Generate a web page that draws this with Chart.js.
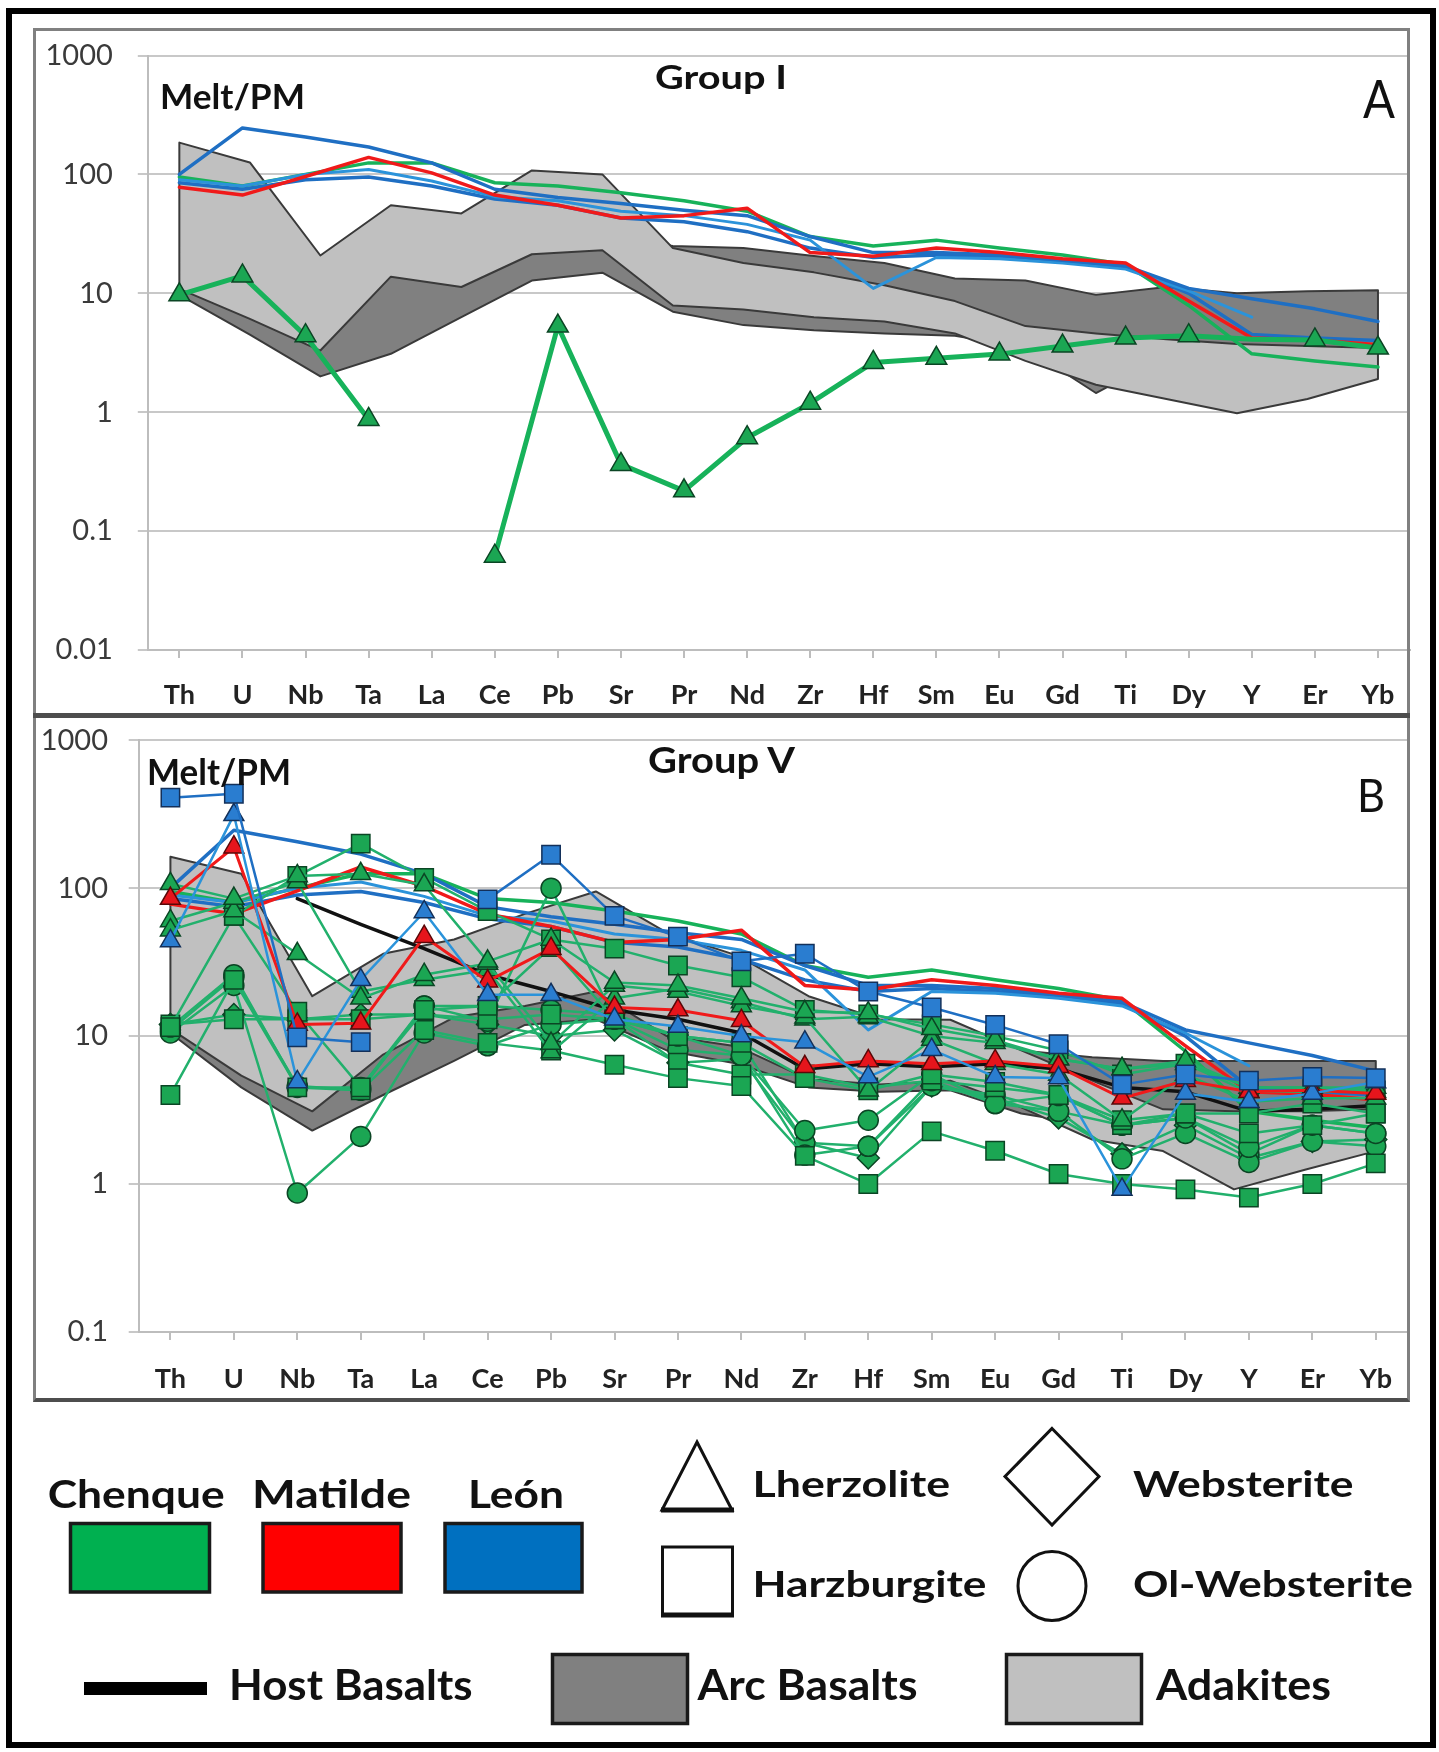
<!DOCTYPE html>
<html lang="en">
<head>
<meta charset="utf-8">
<title>Melt/PM trace-element patterns</title>
<script src="https://cdn.jsdelivr.net/npm/chart.js@4.4.1/dist/chart.umd.min.js"></script>
<style>
  html, body { margin: 0; padding: 0; background: #fff; }
  body { position: relative; width: 1439px; height: 1752px; overflow: hidden;
         font-family: Lato, "Open Sans", sans-serif; color: #111; }
  .abs { position: absolute; box-sizing: border-box; }
  canvas { position: absolute; }
  #overlay { position: absolute; left: 0; top: 0; pointer-events: none; }
  #overlay text { font-family: Lato, "Open Sans", sans-serif; fill: #111; }
  #overlay .b { font-weight: 700; }
</style>
</head>
<body>

<canvas id="chartA" width="1373" height="682" style="left:36px;top:31px"></canvas>
<canvas id="chartB" width="1373" height="680" style="left:36px;top:718px"></canvas>

<!-- outer frame and panel frames -->
<div class="abs" style="left:6px;top:8px;width:1430px;height:1740px;border:6px solid #000"></div>
<div class="abs" style="left:33px;top:28px;width:1377px;height:688px;border:3px solid #808080;border-bottom:none"></div>
<div class="abs" style="left:33px;top:713px;width:1377px;height:5px;background:#4d4d4d"></div>
<div class="abs" style="left:33px;top:718px;width:1377px;height:684px;border:3px solid #808080;border-top:none;border-bottom:4px solid #4d4d4d"></div>

<svg id="overlay" width="1439" height="1752" viewBox="0 0 1439 1752">
  <!-- panel annotations -->
  <text class="b" x="160" y="108.5" font-size="34" textLength="145" lengthAdjust="spacingAndGlyphs">Melt/PM</text>
  <text class="b" x="655" y="89" font-size="32" textLength="132" lengthAdjust="spacingAndGlyphs">Group I</text>
  <text x="1363" y="118" font-size="53" textLength="32" lengthAdjust="spacingAndGlyphs">A</text>

  <text class="b" x="147" y="784.5" font-size="37" textLength="144" lengthAdjust="spacingAndGlyphs">Melt/PM</text>
  <text class="b" x="648" y="773" font-size="36" textLength="147" lengthAdjust="spacingAndGlyphs">Group V</text>
  <text x="1357" y="812" font-size="47" textLength="28" lengthAdjust="spacingAndGlyphs">B</text>

  <!-- legend: localities -->
  <text class="b" x="47.7" y="1508.3" font-size="39" textLength="177" lengthAdjust="spacingAndGlyphs">Chenque</text>
  <text class="b" x="252" y="1508.3" font-size="39" textLength="159" lengthAdjust="spacingAndGlyphs">Matilde</text>
  <text class="b" x="468" y="1508.3" font-size="39" textLength="96" lengthAdjust="spacingAndGlyphs">León</text>
  <rect x="70.5" y="1523.5" width="139" height="68.5" fill="#00b050" stroke="#1a1a1a" stroke-width="3.5"/>
  <rect x="263" y="1523.5" width="138" height="68.5" fill="#ff0000" stroke="#1a1a1a" stroke-width="3.5"/>
  <rect x="445" y="1523.5" width="137" height="68.5" fill="#0070c0" stroke="#1a1a1a" stroke-width="3.5"/>

  <!-- legend: lithologies -->
  <polygon points="697,1442 732,1510 662,1510" fill="none" stroke="#111" stroke-width="3"/>
  <line x1="661" y1="1510" x2="734" y2="1510" stroke="#111" stroke-width="5"/>
  <text class="b" x="752.5" y="1496.7" font-size="37" textLength="197.5" lengthAdjust="spacingAndGlyphs">Lherzolite</text>
  <polygon points="1052,1428.5 1099,1476.5 1052,1525 1005,1476.5" fill="none" stroke="#111" stroke-width="3"/>
  <text class="b" x="1133" y="1496.7" font-size="37" textLength="220.6" lengthAdjust="spacingAndGlyphs">Websterite</text>

  <rect x="662.5" y="1547" width="70" height="67.5" fill="none" stroke="#111" stroke-width="3"/>
  <line x1="661" y1="1615" x2="734" y2="1615" stroke="#111" stroke-width="5"/>
  <text class="b" x="752.5" y="1596.7" font-size="37" textLength="234" lengthAdjust="spacingAndGlyphs">Harzburgite</text>
  <ellipse cx="1052" cy="1586" rx="34" ry="34.5" fill="none" stroke="#111" stroke-width="3"/>
  <text class="b" x="1133" y="1596.7" font-size="37" textLength="280" lengthAdjust="spacingAndGlyphs">Ol-Websterite</text>

  <!-- legend: reference compositions -->
  <rect x="84" y="1682" width="123" height="13" fill="#000"/>
  <text class="b" x="229" y="1700" font-size="42" textLength="243.6" lengthAdjust="spacingAndGlyphs">Host Basalts</text>
  <rect x="552.5" y="1654.5" width="135" height="69" fill="#808080" stroke="#1a1a1a" stroke-width="3.5"/>
  <text class="b" x="697.5" y="1700" font-size="42" textLength="220" lengthAdjust="spacingAndGlyphs">Arc Basalts</text>
  <rect x="1006.5" y="1654.5" width="135" height="69" fill="#c0c0c0" stroke="#1a1a1a" stroke-width="3.5"/>
  <text class="b" x="1156" y="1700" font-size="42" textLength="175" lengthAdjust="spacingAndGlyphs">Adakites</text>
</svg>

<script>
// ---- element order on the horizontal axis ----
const ELEMENTS = ['Th','U','Nb','Ta','La','Ce','Pb','Sr','Pr','Nd','Zr','Hf','Sm','Eu','Gd','Ti','Dy','Y','Er','Yb'];

// ---- vertical axis decades and their labels ----
const DECADES_A = [0.01, 0.1, 1, 10, 100, 1000];
const DECADE_LABELS_A = ['0.01', '0.1', '1', '10', '100', '1000'];
const DECADES_B = [0.1, 1, 10, 100, 1000];
const DECADE_LABELS_B = ['0.1', '1', '10', '100', '1000'];

// ---- calculated melts (no markers), shown in both panels ----
const meltGreen = [95, 80, 100, 125, 125, 85, 80, 70, 60, 49, 30, 25, 28, 24, 21, 17.5, 7.9, 3.1, 2.7, 2.4];
const meltRed   = [78, 67, 96, 139, 103, 67, 55, 43, 45, 52, 22, 20.5, 24, 22, 19.5, 18, 8.6, 4.2, 4.05, 3.7];
const meltBlue1 = [100, 246, 206, 170, 125, 75, 64, 57, 50, 45, 30, 22, 22, 21, 19, 17, 11, 9, 7.4, 5.8];
const meltBlue2 = [90, 80, 100, 110, 88, 65, 60, 49, 45, 38, 28, 11, 20, 19.5, 18, 16, 10.5, 6.3, null, null];
const meltBlue3 = [85, 75, 90, 95, 80, 62, 55, 43, 40, 33, 24, 20, 21, 20, 18.5, 16.5, 10, 4.5, 4.2, 4.0];

// ---- Group I: Chenque lherzolite ----
const chenqueLherzA = [9.7, 14, 4.4, 0.87, null, 0.0615, 5.3, 0.364, 0.218, 0.61, 1.19, 2.62, 2.84, 3.08, 3.6, 4.2, 4.4, 4.1, 4.05, 3.46];

// ---- reference fields (18 evenly spaced vertices from Th to Yb) ----
const adakA_up = [185, 126, 20.8, 55, 47, 108, 100, 24, 18, 15, 11.7, 8.6, 5.3, 4.6, 4.1, 3.75, 3.6, 3.46];
const adakA_lo = [10.9, 6.1, 3.3, 13.8, 11.3, 21.3, 23, 7.9, 7.3, 6.3, 5.8, 4.6, 2.7, 1.7, 1.29, 0.98, 1.29, 1.9];
const arcA_up  = [11, 7, 4, 20, 20, 40, 30, 25, 24, 20.6, 18, 13.3, 12.8, 9.7, 11.3, 10, 10.4, 10.6];
const arcA_lo  = [9.7, 4.5, 2.0, 3.1, 6.3, 12.8, 14.9, 7.0, 5.4, 4.9, 4.6, 4.4, 3.5, 1.45, 3.0, 3.0, 3.2, 3.3];

const adakB_up = [163, 125, 18.6, 36, 45, 67, 95, 50, 35, 18.6, 13, 12.9, 8, 5.0, 3.2, 3.1, 3.1, 3.2];
const adakB_lo = [11.2, 5.4, 3.1, 7.5, 13.4, 16, 20, 10, 8.5, 5.1, 4.7, 5.0, 3.3, 2.0, 1.67, 0.92, 1.25, 1.67];
const arcB_up  = [11.2, 6, 4, 10, 20, 20, 22, 19, 14, 10, 9, 8.5, 8, 7.2, 6.8, 6.8, 6.8, 6.8];
const arcB_lo  = [10.5, 4.5, 2.3, 4.0, 6.8, 11.9, 13, 8, 6.5, 4.5, 4.2, 4.3, 3.0, 2.5, 2.5, 2.0, 2.0, 2.2];

// ---- Group V samples ----
const leonHarzB   = [409, 435, 9.8, 9.1, null, 84, 168, 65, 47, 32, 36, 20, 15.6, 11.9, 8.8, 4.7, 5.5, 5.0, 5.3, 5.2];
const leonLherzB  = [44, 313, 4.9, 24, 69, 19, 19, 13, 11.6, 10, 9.1, 5.3, 8.1, 5.3, 5.2, 0.92, 4.1, 3.6, 4.1, 4.9];
const matLherzB   = [85, 189, 12, 12.2, 47, 23.5, 39, 15.6, 15, 12.7, 6.2, 6.8, 6.5, 6.8, 6.2, 3.8, 5.0, 4.2, 4.3, 4.1];
const chenLherzB1 = [107, 85, 121, 125, 105, 32, 45, 23, 22, 18, 14.6, 14.3, 11.2, 9.4, 7.0, 6.0, 6.8, 4.5, 4.5, 4.5];
const chenLherzB2 = [52, 70, 36, 18, 26, 31, 8.9, 22, 20, 16, 13.4, 4.3, 9.5, 6.5, 5.5, 2.7, 5.5, 3.6, 3.8, 3.8];
const chenLherzB3 = [60, 80, 110, 20, 24, 28, 7.8, 18, 21, 17, 13, 13.5, 10, 9, 7, 6.0, 6.5, 4.2, 4.2, 4.2];
const chenHarzB1  = [null, 65, 121, 200, 117, 70, 45, 39, 30, 25, 15, 14, 12, 10, 8, 5.5, 6.5, 4.5, 4.5, 4.3];
const chenHarzB2  = [11.5, 65, 14.6, 4.5, 15, 16, 40, 13, 10, 9, 5.2, 4.3, 5.5, 4.9, 4.0, 2.7, 3.0, 3.0, 3.5, 3.0];
const chenHarzB3  = [4.0, 24, 4.5, 4.3, 11, 9, 8, 6.4, 5.2, 4.6, 1.55, 1.0, 2.27, 1.68, 1.17, 1.0, 0.92, 0.81, 1.0, 1.38];
const chenHarzB4  = [12, 13, 13, 13, 14, 13, 14, 13, 6.6, 5.5, 5.5, 4.5, 5.0, 4.5, 4.0, 2.5, 3.0, 2.2, 2.5, 3.0];
const chenOlwB1   = [11.5, 26, 4.5, 4.5, 16, 12.6, 100, 13, 10, 7.4, 2.3, 2.7, 5.5, 3.5, 3.96, 2.5, 2.8, 1.77, 2.5, 2.2];
const chenOlwB2   = [10.5, 22, 0.87, 2.1, 10.5, 8.6, 12, 13, 8.1, 7.4, 1.57, 1.8, 5.0, 3.5, 3.1, 1.48, 2.2, 1.4, 1.94, 1.8];
const chenOlwB3   = [11, 25, 4.6, 4.3, 16, 16, 15, 14, 10, 9, 1.9, 1.8, 4.6, 4.0, 3.1, 2.5, 2.8, 1.6, 2.5, 2.2];
const chenWebB    = [12, 14, 13, 14, 14, 12, 10, 11, 6.6, 7.0, 1.9, 1.5, 4.6, 3.8, 2.8, 1.6, 2.5, 1.5, 1.94, 2.0];
const hostBasalt  = [null, null, 85, 57, 39, 26, 20, 15, 13, 10.5, 6.0, 6.5, 6.2, 6.5, 6.0, 4.5, 4.2, 3.1, 3.2, 3.4];

// ---- colours ----
const C = {
  greenLine: '#17b25a', greenSample: '#22b06c', greenFill: '#1ba653', greenEdge: '#0b4524',
  red: '#f01a1a', redFill: '#e6151c', redEdge: '#5a0808',
  blue: '#1f6fc3', blueLight: '#2b93da', blueFill: '#2a7dd0', blueEdge: '#13305a',
  arc: '#808080', adak: '#c0c0c0', fieldEdge: '#3a3a3a', grid: '#c8c8c8', axis: '#bdbdbd'
};

// fields are drawn on a hidden linear axis whose first and last vertices sit on Th and Yb
const BAND_N = adakA_up.length;
const BAND_PAD = 0.5 * (BAND_N - 1) / (ELEMENTS.length - 1);

function bandPolygon(upper, lower) {
  const pts = upper.map((y, k) => ({x: k, y}));
  for (let k = lower.length - 1; k >= 0; k--) pts.push({x: k, y: lower[k]});
  pts.push({x: 0, y: upper[0]});
  return pts;
}

function bandSet(upper, lower, color, order) {
  return {data: bandPolygon(upper, lower), xAxisID: 'xb', fill: 'shape', backgroundColor: color,
          borderColor: C.fieldEdge, borderWidth: 2, pointRadius: 0, order};
}
function plainLine(data, color, width, order) {
  return {data, xAxisID: 'x', borderColor: color, backgroundColor: color, borderWidth: width,
          pointRadius: 0, fill: false, spanGaps: false, order};
}
function sampleLine(data, lineColor, fill, edge, style, radius, width) {
  return {data, xAxisID: 'x', borderColor: lineColor, borderWidth: width, pointStyle: style,
          pointRadius: radius, pointBackgroundColor: fill, pointBorderColor: edge, pointBorderWidth: 1.5,
          fill: false, spanGaps: false, order: 0};
}

function panelOptions(p) {
  return {
    responsive: false, devicePixelRatio: 1, animation: false, events: [],
    layout: {padding: {top: p.padTop, left: 0, right: 0, bottom: 0}},
    plugins: {legend: {display: false}, tooltip: {enabled: false}},
    elements: {line: {tension: 0, borderJoinStyle: 'round', borderCapStyle: 'round'}},
    scales: {
      x: {
        type: 'category', offset: true,
        grid: {display: true, drawOnChartArea: false, drawTicks: true, tickLength: 8, color: C.axis, lineWidth: 2},
        border: {display: true, color: C.axis, width: 2},
        ticks: {autoSkip: false, maxRotation: 0, minRotation: 0, padding: p.xPad, color: '#222',
                font: {family: 'Lato', weight: 'bold', size: 27}},
        afterFit: s => { s.height = p.xH; }
      },
      xb: {type: 'linear', display: false, min: -BAND_PAD, max: BAND_N - 1 + BAND_PAD},
      y: {
        type: 'logarithmic', min: p.decades[0], max: p.decades[p.decades.length - 1],
        grid: {color: C.grid, lineWidth: 2, drawTicks: true, tickLength: 10},
        border: {display: true, color: C.axis, width: 2},
        ticks: {padding: p.yPad, color: '#3a3a3a', font: {family: 'Lato', size: 29},
                callback: (v, i) => p.labels[i]},
        afterBuildTicks: s => { s.ticks = p.decades.map(v => ({value: v})); },
        // fixed axis width; the end labels may overhang the plot instead of shrinking it
        afterFit: s => { s.width = p.yW; s.paddingTop = 0; s.paddingBottom = 0; }
      }
    }
  };
}

// Build a panel, then rebuild it with corrected spacing until the plot area
// sits on the wanted box (canvas pixels). The last chart built is always kept.
function makePanel(canvas, makeDatasets, p, area) {
  const create = () => {
    canvas.style.width = '';
    canvas.style.height = '';
    return new Chart(canvas, {type: 'line', data: {labels: ELEMENTS, datasets: makeDatasets()},
                              options: panelOptions(p)});
  };
  let chart = create();
  for (let pass = 0; pass < 3; pass++) {
    const a = chart.chartArea;
    const dTop = area.top - a.top, dLeft = area.left - a.left;
    const dBottom = area.bottom - a.bottom, dRight = area.right - a.right;
    const newWidth = Math.round(canvas.width + dRight);
    if (Math.abs(dTop) < 0.5 && Math.abs(dLeft) < 0.5 && Math.abs(dBottom) < 0.5 &&
        newWidth === canvas.width) break;
    p.padTop = Math.max(0, p.padTop + dTop);
    p.yW += dLeft;
    p.xH -= dBottom;
    chart.destroy();
    canvas.width = newWidth;
    chart = create();
  }
  return chart;
}

function meltSets(order) {
  return [
    plainLine(meltRed, C.red, 3.5, order),
    plainLine(meltBlue1, C.blue, 3.5, order),
    plainLine(meltBlue2, C.blueLight, 3, order),
    plainLine(meltBlue3, C.blue, 3.5, order),
    plainLine(meltGreen, C.greenLine, 3.5, order)
  ];
}

function build() {
  // Group I
  makePanel(document.getElementById('chartA'), () => [
      sampleLine(chenqueLherzA, C.greenLine, C.greenFill, C.greenEdge, 'triangle',
                 chenqueLherzA.map((v, i) => (ELEMENTS[i] === 'Y' ? 0 : 12)), 5),
      ...meltSets(2),
      bandSet(adakA_up, adakA_lo, C.adak, 10),
      bandSet(arcA_up, arcA_lo, C.arc, 11)
    ],
    {padTop: 24.5, xH: 63, xPad: 21, yW: 111.8, yPad: 25, decades: DECADES_A, labels: DECADE_LABELS_A},
    {left: 111.8, top: 24.5, right: 1373, bottom: 619});

  // Group V
  const g = (d, style, r) => sampleLine(d, C.greenSample, C.greenFill, C.greenEdge, style, r, 2.5);
  makePanel(document.getElementById('chartB'), () => [
      sampleLine(leonHarzB, C.blue, C.blueFill, C.blueEdge, 'rect', 13, 2.5),
      sampleLine(leonLherzB, C.blueLight, C.blueFill, C.blueEdge, 'triangle', 11.5, 2.5),
      sampleLine(matLherzB, C.red, C.redFill, C.redEdge, 'triangle', 11.5, 3),
      g(chenLherzB1, 'triangle', 11.5),
      g(chenLherzB2, 'triangle', 11.5),
      g(chenLherzB3, 'triangle', 11.5),
      g(chenHarzB1, 'rect', 13),
      g(chenHarzB2, 'rect', 13),
      g(chenHarzB3, 'rect', 13),
      g(chenHarzB4, 'rect', 13),
      g(chenOlwB1, 'circle', 10),
      g(chenOlwB2, 'circle', 10),
      g(chenOlwB3, 'circle', 10),
      g(chenWebB, 'rectRot', 11),
      plainLine(hostBasalt, '#111', 3.5, 1),
      ...meltSets(2),
      bandSet(adakB_up, adakB_lo, C.adak, 10),
      bandSet(arcB_up, arcB_lo, C.arc, 11)
    ],
    {padTop: 22.2, xH: 66, xPad: 23.5, yW: 102.7, yPad: 20.7, decades: DECADES_B, labels: DECADE_LABELS_B},
    {left: 102.7, top: 22.2, right: 1371, bottom: 614});
}

Promise.all([
  document.fonts.load('29px Lato'),
  document.fonts.load('bold 27px Lato')
]).catch(() => {}).then(build);
</script>
</body>
</html>
